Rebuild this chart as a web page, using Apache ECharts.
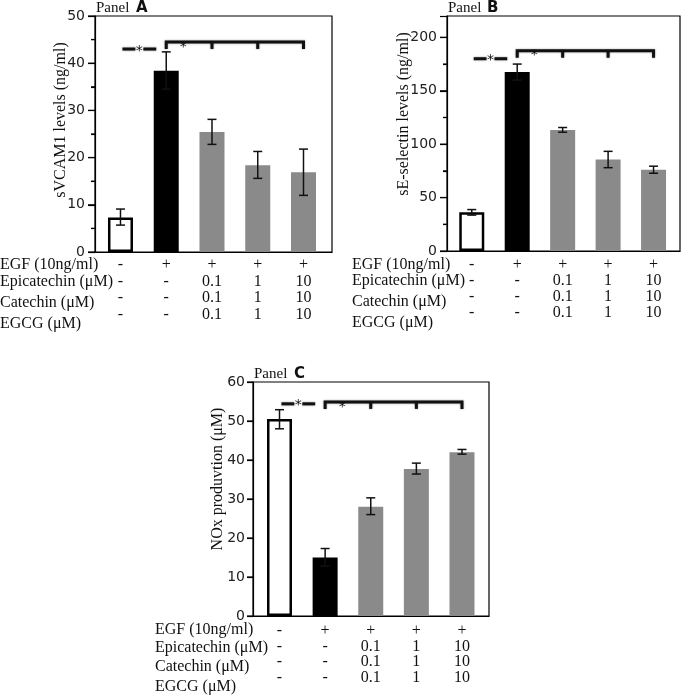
<!DOCTYPE html>
<html>
<head>
<meta charset="utf-8">
<script src="https://cdn.jsdelivr.net/npm/echarts@6/dist/echarts.min.js"></script>
<style>
html,body{margin:0;padding:0;background:#fff;}
#c{width:683px;height:696px;}
</style>
</head>
<body>
<div id="c"></div>
<script>
// ---------- data ----------
var groups = ['Control', 'EGF', 'EGF+0.1', 'EGF+1', 'EGF+10'];
var rowEGF = ['-', '+', '+', '+', '+'];
var rowEpicatechin = ['-', '-', '0.1', '1', '10'];
var rowCatechin = ['-', '-', '0.1', '1', '10'];
var rowEGCG = ['-', '-', '0.1', '1', '10'];
var rowNames = ['EGF (10ng/ml)', 'Epicatechin (\u03bcM)', 'Catechin (\u03bcM)', 'EGCG (\u03bcM)'];

// Panel A: sVCAM1 (ng/ml)
var meanA = [7.3, 38.4, 25.4, 18.4, 16.9];
var lowA  = [5.7, 34.5, 22.8, 15.6, 12.0];
var highA = [9.1, 42.4, 28.1, 21.3, 21.8];
var sigA  = [43, 44.5];        // [pair line level, bracket level]
var majorTicksA = [0, 10, 20, 30, 40, 50];
var minorTicksA = [5, 15, 25, 35, 45];

// Panel B: sE-selectin (ng/ml)
var meanB = [36.2, 167.5, 113.3, 85.7, 76.0];
var lowB  = [33.6, 160.0, 111.2, 78.0, 72.8];
var highB = [38.8, 175.0, 115.6, 93.3, 79.4];
var sigB  = [180, 187.5];
var majorTicksB = [0, 50, 100, 150, 200];
var minorTicksB = [25, 75, 125, 175];

// Panel C: NOx production (uM)
var meanC = [50.5, 15.0, 28.0, 37.7, 42.0];
var lowC  = [48.0, 12.8, 26.0, 36.4, 41.5];
var highC = [52.9, 17.3, 30.3, 39.2, 42.7];
var sigC  = [54.4, 54.9];
var majorTicksC = [0, 10, 20, 30, 40, 50, 60];
var minorTicksC = [];

// ---------- styling helpers ----------
var SERIF = "'Liberation Serif','Times New Roman',serif";
var SANS = "'DejaVu Sans',sans-serif";
var barColors = ['#ffffff', '#000000', '#8a8a8a', '#8a8a8a', '#8a8a8a'];

function barData(means) {
  return means.map(function (v, i) {
    return {
      value: [i, v],
      itemStyle: {
        color: barColors[i],
        borderColor: i === 0 ? '#000' : barColors[i],
        borderWidth: i === 0 ? 2.5 : 0
      }
    };
  });
}
function errData(lo, hi) {
  return lo.map(function (l, i) { return [i, l, hi[i]]; });
}
function tickData(major, minor) {
  return major.map(function (v) { return [0, v, 1]; })
    .concat(minor.map(function (v) { return [0, v, 0]; }));
}
function renderErr(params, api) {
  var x = api.value(0);
  var p1 = api.coord([x, api.value(1)]);
  var p2 = api.coord([x, api.value(2)]);
  var hw = 4.5;
  var st = { stroke: '#111', lineWidth: 1.5, fill: null };
  return {
    type: 'group',
    children: [
      { type: 'line', shape: { x1: p1[0], y1: p1[1], x2: p2[0], y2: p2[1] }, style: st },
      { type: 'line', shape: { x1: p1[0] - hw, y1: p1[1], x2: p1[0] + hw, y2: p1[1] }, style: st },
      { type: 'line', shape: { x1: p2[0] - hw, y1: p2[1], x2: p2[0] + hw, y2: p2[1] }, style: st }
    ]
  };
}
function makeTickRenderer(majorLen) {
  return function (params, api) {
    var p = api.coord([0, api.value(1)]);
    var x = params.coordSys.x;
    var len = api.value(2) ? majorLen : 4;
    return { type: 'line', shape: { x1: x - len, y1: p[1], x2: x, y2: p[1] },
             style: { stroke: '#000', lineWidth: 1.2, fill: null } };
  };
}
function renderSig(params, api) {
  var pairY = api.value(1), brY = api.value(2);
  var c0 = api.coord([0, pairY]);
  var c1 = api.coord([1, pairY]);
  var b1 = api.coord([1, brY]);
  var b2 = api.coord([2, brY]);
  var b3 = api.coord([3, brY]);
  var b4 = api.coord([4, brY]);
  var st = { stroke: '#111', lineWidth: 3, fill: null, shadowBlur: 2, shadowColor: 'rgba(0,0,0,0.45)' };
  var drop = 7;
  var x0 = c0[0] + 2, x1 = c1[0] - 10, xm = (x0 + x1) / 2;
  return {
    type: 'group',
    children: [
      { type: 'line', shape: { x1: x0, y1: c0[1], x2: xm - 4, y2: c0[1] }, style: st },
      { type: 'line', shape: { x1: xm + 4, y1: c0[1], x2: x1, y2: c0[1] }, style: st },
      { type: 'text', x: xm, y: c0[1] + 2,
        style: { text: '*', fill: '#111', font: '14px ' + SANS, align: 'center', verticalAlign: 'middle' } },
      { type: 'polyline', shape: { points: [[b1[0], b1[1] + drop], [b1[0], b1[1]], [b4[0], b4[1]], [b4[0], b4[1] + drop]] }, style: st },
      { type: 'line', shape: { x1: b2[0], y1: b2[1], x2: b2[0], y2: b2[1] + drop }, style: st },
      { type: 'line', shape: { x1: b3[0], y1: b3[1], x2: b3[0], y2: b3[1] + drop }, style: st },
      { type: 'text', x: b1[0] + 17, y: b1[1] + 5,
        style: { text: '*', fill: '#111', font: '14px ' + SANS, align: 'center', verticalAlign: 'middle' } }
    ]
  };
}
function tableLabel(v) {
  var i = Math.round(v);
  if (Math.abs(v - i) > 1e-6 || i < 0 || i > 4) return '';
  return [rowEGF[i], rowEpicatechin[i], rowCatechin[i], rowEGCG[i]].join('\n');
}
function xAxisCfg(gi, mn, mx, margin, lh) {
  return {
    type: 'value', gridIndex: gi, min: mn, max: mx,
    splitLine: { show: false },
    axisTick: { show: false },
    axisLine: { show: true, onZero: false, lineStyle: { color: '#000', width: 1.2 } },
    axisLabel: {
      showMinLabel: false, showMaxLabel: false,
      formatter: tableLabel, margin: margin, lineHeight: lh,
      fontFamily: SERIF, fontSize: 16, color: '#111', align: 'center'
    }
  };
}
function yAxisCfg(gi, mx, interval, minor, tickLen, margin, showMax) {
  return {
    type: 'value', gridIndex: gi, min: 0, max: mx, interval: interval,
    splitLine: { show: false },
    axisLine: { show: true, onZero: false, lineStyle: { color: '#000', width: 1.2 } },
    axisTick: { show: true, length: tickLen, lineStyle: { color: '#000', width: 1.2 } },
    minorTick: { show: minor, splitNumber: 2, length: 4, lineStyle: { color: '#000', width: 1.2 } },
    axisLabel: { margin: margin, fontFamily: SANS, fontSize: 14, color: '#222', showMaxLabel: showMax }
  };
}
function txt(x, y, s, font, opts) {
  opts = opts || {};
  return {
    type: 'text', x: x, y: y, rotation: opts.rot || 0, silent: true,
    style: { text: s, font: font, fill: '#111', align: opts.align || 'left', verticalAlign: opts.va || 'middle' }
  };
}

var graphics = [];
// panel titles
graphics.push(txt(96, 16, 'Panel', '15px ' + SERIF, { va: 'bottom' }));
graphics.push(txt(136, 16, 'A', 'bold 15px ' + SANS, { va: 'bottom' }));
graphics.push(txt(448, 16, 'Panel', '15px ' + SERIF, { va: 'bottom' }));
graphics.push(txt(487, 16, 'B', 'bold 15px ' + SANS, { va: 'bottom' }));
graphics.push(txt(254, 382, 'Panel', '15px ' + SERIF, { va: 'bottom' }));
graphics.push(txt(294, 382, 'C', 'bold 15px ' + SANS, { va: 'bottom' }));
// y axis titles
graphics.push(txt(61, 120, 'sVCAM1 levels (ng/ml)', '16px ' + SERIF, { rot: Math.PI / 2, align: 'center' }));
graphics.push(txt(404, 114, 'sE-selectin levels (ng/ml)', '16px ' + SERIF, { rot: Math.PI / 2, align: 'center' }));
graphics.push(txt(218, 479, 'NOx produvtion (\u03bcM)', '16px ' + SERIF, { rot: Math.PI / 2, align: 'center' }));
// row labels of the treatment tables
var rowYA = [265, 282, 303, 324], rowYB = [265, 281, 302, 323], rowYC = [630, 648, 667, 687];
rowNames.forEach(function (n, k) {
  graphics.push(txt(0, rowYA[k], n, '16px ' + SERIF));
  graphics.push(txt(352, rowYB[k], n, '16px ' + SERIF));
  graphics.push(txt(155, rowYC[k], n, '16px ' + SERIF));
});

var option = {
  animation: false,
  backgroundColor: '#fff',
  grid: [
    { left: 95, top: 16, width: 237, height: 236, show: true, borderColor: '#000', borderWidth: 1.2 },
    { left: 447, top: 16, width: 233, height: 235, show: true, borderColor: '#000', borderWidth: 1.2 },
    { left: 253, top: 382, width: 236, height: 234, show: true, borderColor: '#000', borderWidth: 1.2 }
  ],
  xAxis: [
    xAxisCfg(0, -0.557, 4.623, 5, 16.5),
    xAxisCfg(1, -0.545, 4.582, 6, 16),
    xAxisCfg(2, -0.581, 4.592, 7, 15.7)
  ],
  yAxis: [
    yAxisCfg(0, 50, 10, true, 7, 10, true),
    yAxisCfg(1, 220, 50, true, 7, 10, false),
    yAxisCfg(2, 60, 10, false, 6, 8, true)
  ],
  graphic: graphics,
  series: [
    { type: 'bar', xAxisIndex: 0, yAxisIndex: 0, barWidth: 25, data: barData(meanA), z: 2 },
    { type: 'bar', xAxisIndex: 1, yAxisIndex: 1, barWidth: 25, data: barData(meanB), z: 2 },
    { type: 'bar', xAxisIndex: 2, yAxisIndex: 2, barWidth: 25, data: barData(meanC), z: 2 },
    { type: 'custom', xAxisIndex: 0, yAxisIndex: 0, renderItem: renderErr, data: errData(lowA, highA), z: 3 },
    { type: 'custom', xAxisIndex: 1, yAxisIndex: 1, renderItem: renderErr, data: errData(lowB, highB), z: 3 },
    { type: 'custom', xAxisIndex: 2, yAxisIndex: 2, renderItem: renderErr, data: errData(lowC, highC), z: 3 },
    { type: 'custom', xAxisIndex: 0, yAxisIndex: 0, renderItem: renderSig, data: [[0, sigA[0], sigA[1]]], z: 4 },
    { type: 'custom', xAxisIndex: 1, yAxisIndex: 1, renderItem: renderSig, data: [[0, sigB[0], sigB[1]]], z: 4 },
    { type: 'custom', xAxisIndex: 2, yAxisIndex: 2, renderItem: renderSig, data: [[0, sigC[0], sigC[1]]], z: 4 },
    { type: 'custom', xAxisIndex: 0, yAxisIndex: 0, clip: false, encode: { x: 0, y: 1 }, renderItem: makeTickRenderer(7), data: tickData(majorTicksA, minorTicksA), z: 5 },
    { type: 'custom', xAxisIndex: 1, yAxisIndex: 1, clip: false, encode: { x: 0, y: 1 }, renderItem: makeTickRenderer(7), data: tickData(majorTicksB, minorTicksB), z: 5 },
    { type: 'custom', xAxisIndex: 2, yAxisIndex: 2, clip: false, encode: { x: 0, y: 1 }, renderItem: makeTickRenderer(6), data: tickData(majorTicksC, minorTicksC), z: 5 }
  ]
};
var chart = echarts.init(document.getElementById('c'), null, { renderer: 'canvas' });
chart.setOption(option);
</script>
</body>
</html>
